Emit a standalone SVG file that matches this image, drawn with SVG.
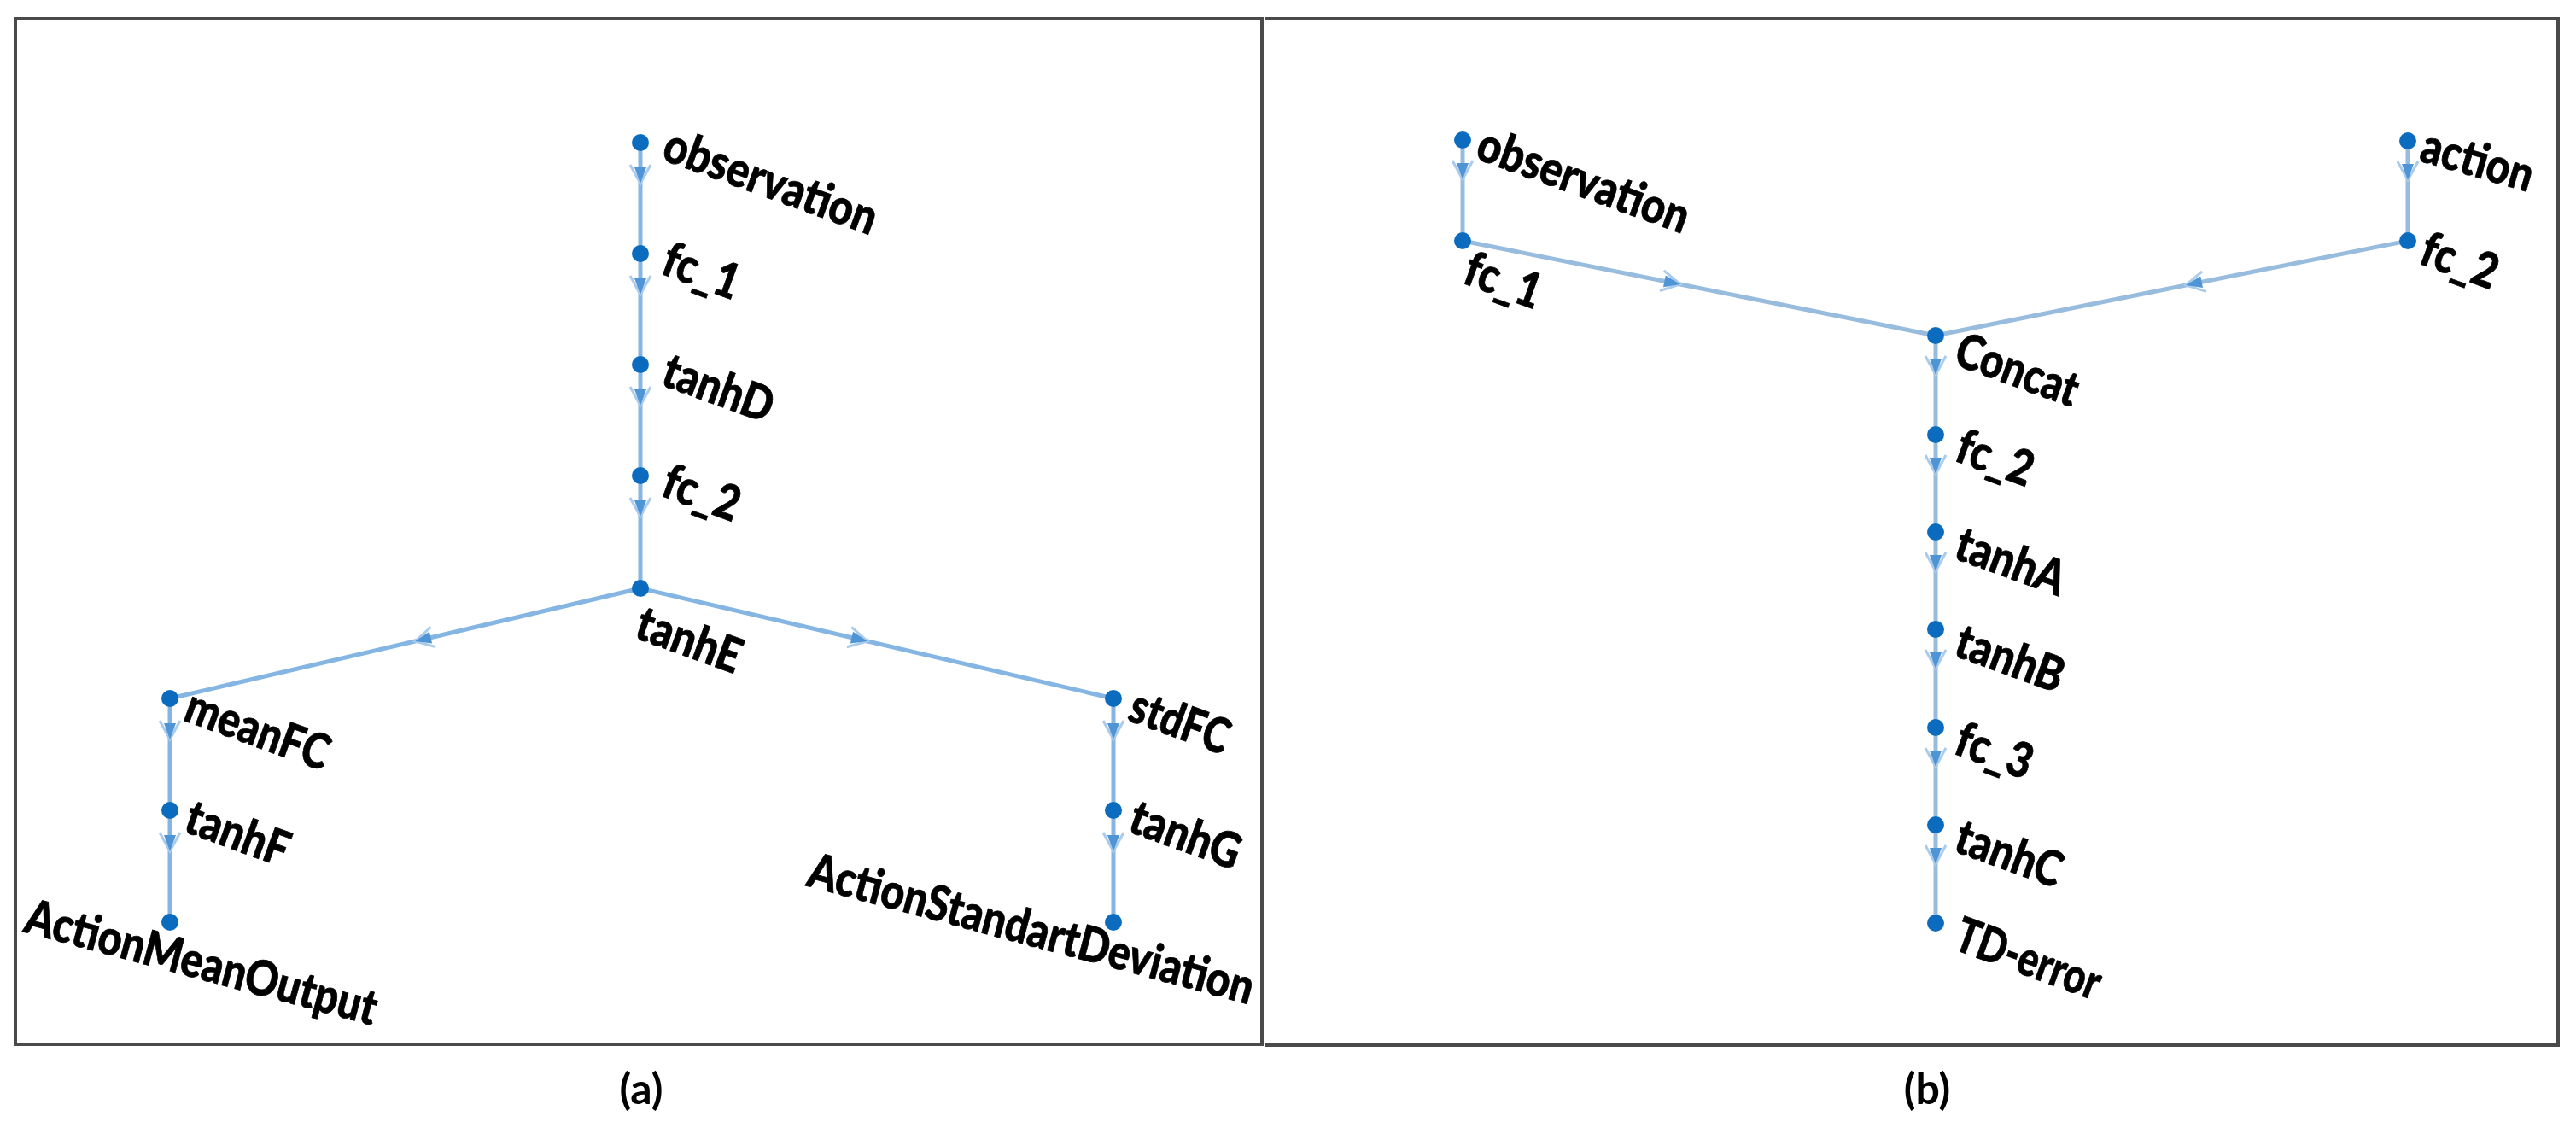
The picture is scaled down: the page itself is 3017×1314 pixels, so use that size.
<svg xmlns="http://www.w3.org/2000/svg" width="3017" height="1314" viewBox="0 0 3017 1314">
<style>
.frame{fill:none;stroke:#4a4a4a;stroke-width:4}
.edge{fill:none;stroke:#84b5e3;stroke-width:5;stroke-linecap:round}
.edgeR{fill:none;stroke:#98bcdd;stroke-width:5;stroke-linecap:round}
.node{fill:#0b6cbf}
.lbl{font-family:Lato,"Open Sans","Liberation Sans",sans-serif;font-weight:900;font-size:57px;fill:#000;stroke:#000;stroke-width:0.8}
.cap{font-family:Lato,"Open Sans","Liberation Sans",sans-serif;font-weight:bold;font-size:50px;fill:#000;text-anchor:middle}
</style>
<defs>
<marker id="arr" markerUnits="userSpaceOnUse" markerWidth="48" markerHeight="48" viewBox="-32 -24 48 48" refX="0" refY="0" orient="auto">
<path d="M-22,-12 L0,0 L-22,12" fill="none" stroke="#aacbec" stroke-width="3"/>
<path d="M-19,-7 L0,0 L-19,7 Z" fill="#4f95d6"/>
</marker>
</defs>
<rect x="0" y="0" width="3017" height="1314" fill="#ffffff"/>
<rect class="frame" x="18" y="22" width="1460" height="1201"/>
<path class="frame" d="M1482,22 H2996 V1224 H1482"/>

<g id="connectors">
<path class="edge" d="M750,167 L750,215 L750,297" marker-mid="url(#arr)"/>
<path class="edge" d="M750,297 L750,345 L750,427" marker-mid="url(#arr)"/>
<path class="edge" d="M750,427 L750,475 L750,557" marker-mid="url(#arr)"/>
<path class="edge" d="M750,557 L750,605 L750,689" marker-mid="url(#arr)"/>
<path class="edge" d="M750,689 L486,751 L199,818" marker-mid="url(#arr)"/>
<path class="edge" d="M750,689 L1016,751 L1304,818" marker-mid="url(#arr)"/>
<path class="edge" d="M199,818 L199,866 L199,949" marker-mid="url(#arr)"/>
<path class="edge" d="M199,949 L199,997 L199,1080" marker-mid="url(#arr)"/>
<path class="edge" d="M1304,818 L1304,866 L1304,949" marker-mid="url(#arr)"/>
<path class="edge" d="M1304,949 L1304,997 L1304,1080" marker-mid="url(#arr)"/>

<path class="edgeR" d="M1713,164 L1713,210 L1713,282" marker-mid="url(#arr)"/>
<path class="edgeR" d="M2820,165 L2820,211 L2820,282" marker-mid="url(#arr)"/>
<path class="edgeR" d="M1713,282 L1968,333 L2267,393" marker-mid="url(#arr)"/>
<path class="edgeR" d="M2820,282 L2560,334 L2267,393" marker-mid="url(#arr)"/>
<path class="edgeR" d="M2267,393 L2267,439 L2267,509" marker-mid="url(#arr)"/>
<path class="edgeR" d="M2267,509 L2267,555 L2267,623" marker-mid="url(#arr)"/>
<path class="edgeR" d="M2267,623 L2267,669 L2267,737" marker-mid="url(#arr)"/>
<path class="edgeR" d="M2267,737 L2267,783 L2267,852" marker-mid="url(#arr)"/>
<path class="edgeR" d="M2267,852 L2267,898 L2267,966" marker-mid="url(#arr)"/>
<path class="edgeR" d="M2267,966 L2267,1012 L2267,1081" marker-mid="url(#arr)"/>
</g>

<g id="a-observation"><circle class="node" cx="750" cy="167" r="10"/><text class="lbl" transform="translate(773,186) rotate(20)" textLength="262" lengthAdjust="spacingAndGlyphs">observation</text></g>
<g id="a-fc_1"><circle class="node" cx="750" cy="297" r="10"/><text class="lbl" transform="translate(772,320) rotate(20)" textLength="92" lengthAdjust="spacingAndGlyphs">fc_1</text></g>
<g id="a-tanhD"><circle class="node" cx="750" cy="427" r="10"/><text class="lbl" transform="translate(772,450) rotate(20)" textLength="134" lengthAdjust="spacingAndGlyphs">tanhD</text></g>
<g id="a-fc_2"><circle class="node" cx="750" cy="557" r="10"/><text class="lbl" transform="translate(772,580) rotate(20)" textLength="92" lengthAdjust="spacingAndGlyphs">fc_2</text></g>
<g id="a-tanhE"><circle class="node" cx="750" cy="689" r="10"/><text class="lbl" transform="translate(741,746) rotate(20)" textLength="127" lengthAdjust="spacingAndGlyphs">tanhE</text></g>
<g id="a-meanFC"><circle class="node" cx="199" cy="818" r="10"/><text class="lbl" transform="translate(213,843) rotate(20)" textLength="175" lengthAdjust="spacingAndGlyphs">meanFC</text></g>
<g id="a-tanhF"><circle class="node" cx="199" cy="949" r="10"/><text class="lbl" transform="translate(213,973) rotate(20)" textLength="125" lengthAdjust="spacingAndGlyphs">tanhF</text></g>
<g id="a-ActionMeanOutput"><circle class="node" cx="199" cy="1080" r="10"/><text class="lbl" transform="translate(26,1091) rotate(15)" textLength="424" lengthAdjust="spacingAndGlyphs">ActionMeanOutput</text></g>
<g id="a-stdFC"><circle class="node" cx="1304" cy="818" r="10"/><text class="lbl" transform="translate(1319,843) rotate(20)" textLength="120" lengthAdjust="spacingAndGlyphs">stdFC</text></g>
<g id="a-tanhG"><circle class="node" cx="1304" cy="949" r="10"/><text class="lbl" transform="translate(1319,973) rotate(20)" textLength="134" lengthAdjust="spacingAndGlyphs">tanhG</text></g>
<g id="a-ActionStandartDeviation"><circle class="node" cx="1304" cy="1080" r="10"/><text class="lbl" transform="translate(943,1037) rotate(15)" textLength="538" lengthAdjust="spacingAndGlyphs">ActionStandartDeviation</text></g>

<g id="b-observation"><circle class="node" cx="1713" cy="164" r="10"/><text class="lbl" transform="translate(1726,185) rotate(20)" textLength="260" lengthAdjust="spacingAndGlyphs">observation</text></g>
<g id="b-fc_1"><circle class="node" cx="1713" cy="282" r="10"/><text class="lbl" transform="translate(1711,331) rotate(20)" textLength="92" lengthAdjust="spacingAndGlyphs">fc_1</text></g>
<g id="b-action"><circle class="node" cx="2820" cy="165" r="10"/><text class="lbl" transform="translate(2832,188) rotate(16)" textLength="134" lengthAdjust="spacingAndGlyphs">action</text></g>
<g id="b-fc_2-top"><circle class="node" cx="2820" cy="282" r="10"/><text class="lbl" transform="translate(2831,308) rotate(20)" textLength="92" lengthAdjust="spacingAndGlyphs">fc_2</text></g>
<g id="b-Concat"><circle class="node" cx="2267" cy="393" r="10"/><text class="lbl" transform="translate(2286,426) rotate(20)" textLength="149" lengthAdjust="spacingAndGlyphs">Concat</text></g>
<g id="b-fc_2"><circle class="node" cx="2267" cy="509" r="10"/><text class="lbl" transform="translate(2287,539) rotate(20)" textLength="92" lengthAdjust="spacingAndGlyphs">fc_2</text></g>
<g id="b-tanhA"><circle class="node" cx="2267" cy="623" r="10"/><text class="lbl" transform="translate(2286,653) rotate(20)" textLength="133" lengthAdjust="spacingAndGlyphs">tanhA</text></g>
<g id="b-tanhB"><circle class="node" cx="2267" cy="737" r="10"/><text class="lbl" transform="translate(2286,767) rotate(20)" textLength="131" lengthAdjust="spacingAndGlyphs">tanhB</text></g>
<g id="b-fc_3"><circle class="node" cx="2267" cy="852" r="10"/><text class="lbl" transform="translate(2286,882) rotate(20)" textLength="92" lengthAdjust="spacingAndGlyphs">fc_3</text></g>
<g id="b-tanhC"><circle class="node" cx="2267" cy="966" r="10"/><text class="lbl" transform="translate(2286,996) rotate(20)" textLength="129" lengthAdjust="spacingAndGlyphs">tanhC</text></g>
<g id="b-TD-error"><circle class="node" cx="2267" cy="1081" r="10"/><text class="lbl" transform="translate(2286,1111) rotate(20)" textLength="177" lengthAdjust="spacingAndGlyphs">TD-error</text></g>

<text class="cap" x="751" y="1293">(a)</text>
<text class="cap" x="2257" y="1293">(b)</text>
</svg>
